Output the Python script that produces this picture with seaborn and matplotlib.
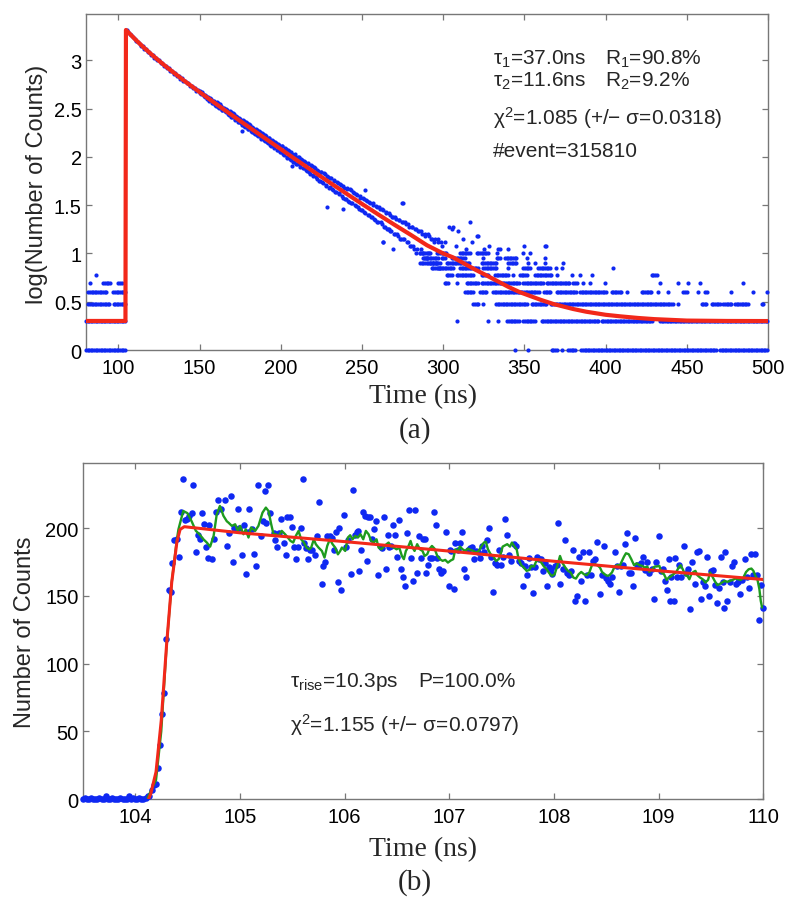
import numpy as np
import pandas as pd
import matplotlib
matplotlib.use("Agg")
import matplotlib.pyplot as plt
from matplotlib.ticker import FuncFormatter
import seaborn as sns

# ---------------- panel (a): decay histogram, counts per bin ----------------
early_t = list(range(105, 150))
early_counts = [2046, 1972, 1865, 1822, 1760, 1648, 1597, 1561, 1475, 1421,
                1402, 1322, 1310, 1231, 1218, 1150, 1140, 1069, 1071, 1003,
                1001, 940, 938, 882, 884, 829, 831, 780, 783, 731,
                737, 690, 694, 649, 655, 611, 617, 577, 584, 545,
                549, 514, 519, 486, 489]

# two sub-bins per ns: at t and t + 0.5
mid_t = list(range(150, 300))
mid_counts_a = [481, 447, 452, 418, 431, 418, 380, 399, 362, 377,
                341, 362, 322, 339, 306, 322, 289, 305, 270, 290,
                258, 279, 243, 262, 229, 247, 214, 236, 205, 222,
                193, 214, 183, 201, 174, 191, 163, 182, 154, 172,
                146, 166, 138, 157, 131, 147, 124, 141, 118, 133,
                112, 129, 104, 121, 99, 114, 94, 108, 88, 103,
                84, 99, 79, 94, 76, 88, 71, 85, 67, 80,
                65, 77, 59, 72, 57, 69, 54, 66, 50, 62,
                49, 60, 45, 57, 43, 54, 41, 51, 38, 48,
                37, 47, 34, 45, 33, 42, 31, 40, 29, 38,
                28, 37, 26, 35, 25, 33, 24, 32, 22, 30,
                21, 29, 20, 28, 19, 26, 18, 25, 17, 24,
                16, 23, 15, 22, 14, 21, 14, 20, 13, 19,
                12, 19, 11, 18, 11, 17, 11, 16, 9, 15,
                9, 15, 8, 14, 8, 14, 8, 13, 7, 12]
mid_counts_b = [455, 468, 430, 441, 398, 391, 408, 366, 382, 345,
                368, 329, 350, 309, 325, 296, 314, 276, 297, 258,
                284, 249, 268, 231, 252, 224, 240, 208, 229, 196,
                218, 186, 205, 176, 194, 168, 186, 157, 175, 148,
                168, 142, 158, 133, 150, 127, 144, 119, 136, 112,
                131, 107, 124, 98, 117, 96, 112, 89, 106, 84,
                101, 82, 96, 76, 90, 73, 87, 69, 82, 64,
                79, 62, 74, 57, 70, 55, 68, 51, 64, 48,
                61, 47, 58, 43, 55, 42, 53, 39, 50, 37,
                48, 35, 46, 33, 43, 32, 41, 30, 39, 28,
                38, 27, 36, 25, 34, 24, 33, 23, 31, 21,
                30, 21, 29, 19, 27, 18, 26, 17, 24, 16,
                24, 16, 22, 14, 21, 14, 21, 13, 20, 12,
                19, 12, 18, 10, 17, 10, 17, 10, 16, 9,
                16, 10, 14, 8, 13, 8, 14, 7, 13, 7]

# scattered points off the main band
extra_t = [175.9, 206.7, 211.8, 228.2, 238.5, 251.8, 262.7, 263.1, 266.8, 269.3,
           274.4, 275.4, 301.0, 303.7, 305.2, 306.2, 308.0, 309.3, 312.0, 314.0,
           316.5, 318.0, 320.6, 321.6, 325.0, 328.0, 333.9, 335.0, 340.0, 349.7,
           362.7, 363.3]
extra_counts = [186, 81, 96, 30, 29, 45, 13, 13, 18, 11,
                33, 33, 13, 19, 18, 19, 12, 17, 14, 11,
                21, 13, 15, 15, 11, 12, 11, 11, 11, 12,
                12, 12]

# low-count rows: time spans (ns) where bins hold 1, 2, ... 10 counts
runs_c1 = [(80, 104.3), (344.2, 344.2), (352.4, 352.4), (366.8, 369.8), (373, 373),
           (377, 381), (385, 468.4), (470.4, 500)]
runs_c2 = [(80, 104.3), (308.3, 308.3), (327.8, 327.8), (333.9, 333.9), (339.5, 347.3),
           (349.3, 356.5), (360.6, 396.5), (397.6, 429.4), (433.5, 500)]
runs_c3 = [(81.4, 94.5), (97, 104), (318.5, 321.6), (324.7, 324.7), (332.5, 352.4),
           (354.4, 363.7), (366.2, 441.7), (444.8, 444.8), (459.1, 462.2), (465.3, 470.4),
           (472.5, 477.6), (479.7, 487.9), (496.1, 497.1)]
runs_c4 = [(81.4, 92.7), (96.8, 101), (102, 104), (313.4, 318.5), (322.6, 326.7),
           (330.8, 359.6), (362, 366.8), (369.8, 382.2), (384.2, 400.6), (403.7, 409.9),
           (412.9, 412.9), (422.2, 428.4), (432.5, 432.5), (438.6, 439.2), (447.9, 449.9),
           (457.1, 457.1), (461.2, 462.2), (477, 477), (490.6, 490.6), (499.2, 499.2)]
runs_c5 = [(82.5, 82.5), (90.7, 95), (99.9, 102), (301, 303.1), (308.3, 308.3),
           (314.4, 321.6), (323.7, 347.3), (349.3, 361.6), (363.7, 378.1), (380.1, 382.2),
           (386.3, 386.3), (390.4, 390.4), (399.6, 399.6), (433.5, 433.5), (444.8, 444.8),
           (451, 451), (458.1, 458.1), (484.8, 484.8)]
runs_c6 = [(86.2, 86.2), (302.1, 305.2), (308.3, 318.5), (323.7, 327.8), (331.9, 340.1),
           (343.2, 343.2), (347.3, 351.4), (356.5, 366.8), (369.8, 369.8), (379.1, 379.1),
           (384.2, 384.2), (391.4, 391.4), (428.4, 431.4)]
runs_c7 = [(292.9, 298), (300, 306.2), (310.3, 321.6), (324.7, 332.9), (340.1, 340.1),
           (349.3, 353.4), (358.6, 365.7), (369.4, 369.4), (373, 373), (404.7, 404.7)]
runs_c8 = [(285.7, 298), (302.1, 316.5), (323.7, 332.9), (340.1, 345.2), (352.4, 352.4),
           (356.5, 356.5), (362.7, 362.7), (374, 374)]
runs_c9 = [(287.7, 297), (299, 301), (305.2, 313.4), (324.7, 324.7), (332.9, 335),
           (338, 345.2), (351.4, 351.4), (362.7, 362.7)]
runs_c10 = [(285.7, 291.8), (296, 302), (310.3, 316.5), (320.6, 327.8), (333.3, 333.3),
            (349.3, 349.3), (353.4, 353.4)]

fit_t_a = [80, 104.3, 104.6, 106, 110, 115, 120, 125, 130, 140,
           150, 160, 170, 180, 190, 200, 210, 220, 230, 240,
           250, 260, 270, 280, 290, 300, 306, 320, 327, 340,
           347, 360, 368, 380, 388, 400, 409, 420, 430, 450,
           475, 500]
fit_log_a = [0.301, 0.301, 3.315, 3.292, 3.223, 3.142, 3.067, 2.995, 2.926, 2.795,
             2.671, 2.550, 2.431, 2.313, 2.196, 2.080, 1.964, 1.850, 1.736, 1.624,
             1.513, 1.404, 1.297, 1.193, 1.085, 1.0, 0.96, 0.83, 0.77, 0.655,
             0.60, 0.52, 0.476, 0.425, 0.397, 0.365, 0.349, 0.332, 0.32, 0.305,
             0.301, 0.30]

# ---------------- panel (b): rising edge ----------------
data_t_b = [
    103.50, 103.52, 103.54, 103.56, 103.58, 103.60, 103.62, 103.64, 103.66, 103.68,
    103.70, 103.72, 103.74, 103.76, 103.78, 103.80, 103.82, 103.84, 103.86, 103.88,
    103.90, 103.92, 103.94, 103.96, 103.98, 104.00, 104.02, 104.04, 104.06, 104.08,
    104.10, 104.12,
    104.137, 104.159, 104.181, 104.200, 104.216, 104.236, 104.255, 104.277, 104.299, 104.325,
    104.341, 104.357, 104.376, 104.398, 104.417, 104.436, 104.455, 104.478, 104.500, 104.519,
    104.541, 104.557, 104.583, 104.602, 104.621, 104.640, 104.659, 104.681, 104.697, 104.710,
    104.730, 104.758, 104.774, 104.796, 104.818,
    104.860, 104.879, 104.898, 104.917, 104.936, 104.949, 104.981, 104.994, 105.019, 105.038,
    105.057, 105.083, 105.089, 105.115, 105.140, 105.159, 105.178, 105.198, 105.217, 105.236,
    105.255, 105.274, 105.293, 105.322, 105.338, 105.357, 105.370, 105.395, 105.420, 105.440,
    105.452, 105.478, 105.497, 105.516, 105.541, 105.554, 105.580, 105.599, 105.612, 105.637,
    105.656, 105.675, 105.694, 105.714, 105.739, 105.758, 105.784, 105.796, 105.815, 105.835,
    105.866, 105.879, 105.898, 105.917, 105.937, 105.949, 105.962,
    105.997, 106.013, 106.038, 106.058, 106.077, 106.096, 106.115, 106.128, 106.140, 106.159,
    106.179, 106.198, 106.217, 106.223, 106.242, 106.261, 106.280, 106.300, 106.319, 106.344,
    106.357, 106.376, 106.395, 106.414, 106.427, 106.440, 106.459, 106.478, 106.497, 106.516,
    106.535, 106.554, 106.573, 106.593, 106.612, 106.631, 106.656, 106.675, 106.694, 106.714,
    106.733, 106.752, 106.765, 106.777, 106.796, 106.816, 106.835, 106.854, 106.873, 106.886,
    106.905, 106.924, 106.943, 106.968, 106.994, 107.007,
    107.019, 107.042, 107.058, 107.083, 107.102, 107.121, 107.140, 107.159, 107.179, 107.198,
    107.217, 107.236, 107.255, 107.274, 107.293, 107.312, 107.331, 107.357, 107.376, 107.395,
    107.414, 107.440, 107.459, 107.478, 107.497, 107.516, 107.535, 107.554, 107.573, 107.593,
    107.618, 107.637, 107.663, 107.682, 107.701, 107.720, 107.739, 107.758, 107.777, 107.796,
    107.816, 107.835, 107.854, 107.873, 107.892, 107.911, 107.930, 107.949, 107.968, 107.981,
    108.007, 108.026, 108.038, 108.058,
    108.083, 108.102, 108.124, 108.147, 108.166, 108.185, 108.204, 108.223, 108.242, 108.261,
    108.281, 108.300, 108.319, 108.338, 108.357, 108.376, 108.395, 108.414, 108.440, 108.459,
    108.478, 108.497, 108.516, 108.535, 108.554, 108.580, 108.599, 108.618, 108.637, 108.656,
    108.675, 108.695, 108.714, 108.733, 108.758, 108.777, 108.796, 108.816, 108.835, 108.854,
    108.873, 108.892, 108.911, 108.937, 108.956, 108.975, 109.000, 109.019, 109.039, 109.064,
    109.083, 109.096, 109.109,
    109.121, 109.144, 109.160, 109.179, 109.198, 109.217, 109.242, 109.261, 109.281, 109.300,
    109.319, 109.344, 109.363, 109.383, 109.402, 109.421, 109.440, 109.459, 109.478, 109.497,
    109.516, 109.535, 109.555, 109.574, 109.593, 109.612, 109.625, 109.637, 109.656, 109.682,
    109.701, 109.720, 109.739, 109.758, 109.777, 109.797, 109.822, 109.841, 109.860, 109.879,
    109.898, 109.918, 109.937, 109.962, 109.981, 110.000]
data_counts_b = [
    0, 1, 0, 0, 1, 0, 0, 0, 1, 0,
    0, 2, 0, 0, 1, 0, 0, 0, 1, 0,
    0, 0, 2, 0, 1, 0, 0, 1, 0, 0,
    1, 2,
    2, 7, 10, 11, 23, 40, 63, 78, 118, 154,
    153, 174, 191, 192, 179, 212, 236, 206, 207, 209,
    211, 232, 182, 195, 192, 211, 203, 186, 178, 202,
    177, 192, 212, 221, 214,
    221, 187, 196, 224, 175, 200, 214, 200, 180, 202,
    166, 197, 214, 199, 181, 172, 232, 194, 205, 227,
    204, 232, 211, 196, 191, 186, 196, 207, 189, 180,
    208, 208, 201, 186, 177, 186, 200, 236, 189, 185,
    177, 184, 184, 180, 194, 219, 159, 172, 175, 194,
    194, 193, 184, 197, 160, 200, 154,
    210, 186, 191, 166, 228, 195, 197, 198, 168, 184,
    212, 209, 176, 208, 208, 192, 199, 205, 165, 186,
    185, 208, 170, 195, 186, 187, 202, 195, 179, 206,
    170, 164, 157, 196, 213, 178, 161, 213, 167, 194,
    178, 192, 192, 167, 173, 178, 178, 212, 202, 178,
    170, 167, 168, 197, 157, 184,
    183, 155, 189, 184, 189, 197, 170, 164, 184, 185,
    186, 177, 183, 182, 178, 187, 182, 191, 200, 179,
    153, 174, 173, 184, 173, 179, 207, 195, 180, 176,
    188, 187, 176, 174, 157, 172, 165, 178, 171, 152,
    171, 179, 177, 177, 168, 174, 157, 171, 170, 166,
    172, 173, 204, 159,
    170, 191, 167, 165, 168, 184, 146, 150, 179, 161,
    182, 146, 165, 182, 165, 176, 177, 190, 151, 165,
    187, 163, 161, 159, 164, 182, 172, 153, 172, 173,
    188, 196, 167, 167, 157, 193, 173, 173, 174, 179,
    169, 175, 167, 170, 148, 175, 194, 168, 170, 161,
    154, 177, 146,
    164, 146, 178, 164, 173, 164, 187, 167, 170, 140,
    175, 159, 182, 183, 148, 160, 157, 179, 150, 168,
    169, 158, 145, 156, 179, 160, 141, 182, 146, 160,
    172, 175, 159, 160, 151, 162, 177, 164, 156, 181,
    165, 181, 165, 132, 158, 141]

green_t_b = [
    104.12, 104.20, 104.25, 104.30, 104.35, 104.40, 104.414, 104.46, 104.50, 104.54,
    104.58, 104.615, 104.653, 104.685, 104.717, 104.75, 104.78, 104.81, 104.844, 104.876,
    104.892, 104.924, 104.956, 104.981, 105.003, 105.035, 105.057, 105.083, 105.108, 105.147,
    105.178, 105.217, 105.249, 105.274, 105.300, 105.322, 105.344, 105.370, 105.401, 105.433,
    105.459, 105.484, 105.510, 105.535, 105.561, 105.586, 105.612, 105.637, 105.663, 105.682,
    105.707, 105.726, 105.752, 105.784, 105.809, 105.835, 105.860, 105.886, 105.911, 105.937,
    105.959, 105.975, 106.007, 106.032, 106.054, 106.077, 106.102, 106.128, 106.153, 106.179,
    106.204, 106.230, 106.255, 106.280, 106.306, 106.325, 106.351, 106.376, 106.401, 106.421,
    106.446, 106.472, 106.497, 106.523, 106.548, 106.567, 106.586, 106.605, 106.631, 106.650,
    106.669, 106.694, 106.720, 106.745, 106.765, 106.790, 106.809, 106.835, 106.860, 106.886,
    106.911, 106.937, 106.962, 106.988, 107.013, 107.038, 107.058, 107.083, 107.102, 107.128,
    107.153, 107.179, 107.204, 107.230, 107.255, 107.281, 107.306, 107.331, 107.350, 107.370,
    107.395, 107.421, 107.446, 107.472, 107.491, 107.510, 107.535, 107.554, 107.580, 107.599,
    107.624, 107.644, 107.663, 107.688, 107.714, 107.739, 107.765, 107.784, 107.809, 107.828,
    107.854, 107.879, 107.905, 107.930, 107.956, 107.981, 108.007, 108.032, 108.058, 108.083,
    108.109, 108.134, 108.160, 108.185, 108.210, 108.236, 108.261, 108.287, 108.312, 108.338,
    108.363, 108.389, 108.414, 108.440, 108.459, 108.484, 108.510, 108.529, 108.554, 108.580,
    108.605, 108.631, 108.650, 108.669, 108.688, 108.714, 108.739, 108.765, 108.790, 108.816,
    108.841, 108.867, 108.892, 108.911, 108.937, 108.962, 108.981, 109.007, 109.026, 109.051,
    109.077, 109.096, 109.115, 109.140, 109.166, 109.191, 109.210, 109.230, 109.255, 109.274,
    109.293, 109.312, 109.332, 109.351, 109.370, 109.395, 109.421, 109.446, 109.472, 109.491,
    109.510, 109.535, 109.561, 109.580, 109.605, 109.631, 109.656, 109.682, 109.707, 109.733,
    109.758, 109.784, 109.809, 109.835, 109.860, 109.886, 109.905, 109.924, 109.943, 109.962,
    109.975, 109.988]
green_counts_b = [
    1, 14, 50, 112, 160, 192, 199, 212.6, 211, 205,
    198, 195.4, 191.7, 189.3, 186.3, 194.2, 210.2, 216.3, 209, 205,
    204.0, 201.6, 202.8, 197.9, 201.6, 195.4, 199.1, 193.0, 200.4, 197.9,
    201.6, 211.4, 215.1, 212.6, 202.8, 195.4, 195.4, 194.2, 197.9, 195.4,
    193.0, 190.5, 189.3, 194.2, 197.9, 191.7, 189.3, 185.6, 184.3, 185.6,
    191.7, 188.1, 185.6, 183.1, 178.2, 186.8, 191.7, 188.1, 185.6, 180.6,
    183.1, 185.6, 183.1, 193.0, 194.7, 191.7, 194.2, 193.0, 195.4, 191.7,
    197.9, 195.4, 190.5, 189.3, 191.7, 185.6, 184.3, 186.3, 188.1, 189.3,
    186.3, 185.6, 184.3, 185.6, 179.4, 177.0, 183.1, 185.6, 190.5, 185.6,
    183.1, 188.1, 184.3, 183.1, 179.4, 180.7, 184.3, 186.8, 184.8, 179.4,
    177.0, 175.8, 176.5, 174.5, 176.0, 177.0, 184.3, 183.1, 186.3, 184.3,
    183.1, 184.8, 183.9, 183.1, 181.9, 183.1, 186.3, 189.3, 189.8, 184.3,
    180.7, 179.4, 175.7, 177.0, 180.7, 186.3, 187.3, 188.1, 186.3, 189.3,
    186.3, 184.3, 177.0, 172.6, 170.8, 168.4, 169.1, 172.1, 171.6, 175.0,
    177.0, 174.5, 171.6, 169.6, 166.6, 164.7, 165.9, 172.1, 179.4, 174.0,
    170.8, 168.4, 167.2, 163.5, 162.7, 165.9, 167.6, 165.9, 165.2, 167.2,
    172.6, 173.3, 172.6, 170.8, 167.6, 165.9, 164.7, 165.2, 167.2, 171.6,
    172.6, 172.6, 175.7, 178.9, 181.4, 180.7, 177.0, 172.6, 174.0, 172.6,
    172.1, 170.8, 171.6, 167.6, 169.6, 171.6, 171.6, 172.1, 167.2, 165.9,
    161.7, 163.5, 164.2, 165.9, 167.2, 170.8, 172.6, 169.6, 165.2, 164.7,
    162.2, 165.9, 167.6, 168.4, 165.2, 163.5, 162.2, 159.8, 161.7, 167.2,
    164.7, 161.0, 157.8, 158.6, 159.8, 161.0, 160.3, 161.0, 161.7, 162.7,
    162.2, 161.7, 163.5, 167.6, 169.6, 170.1, 168.4, 164.7, 162.2, 154.9,
    146.3, 141.3]

fit_t_b = [104.13, 104.15, 104.2, 104.25, 104.3, 104.35, 104.4, 104.43, 104.47,
           105, 106, 107, 108, 109, 110]
fit_counts_b = [0, 4, 20, 58, 113, 160, 190, 199, 201,
                196.5, 190, 183, 175.5, 168.5, 162]

BLUE = "#0f28f2"
RED = "#f2281a"
GREEN = "#1e9b1e"
SPINE = "#777777"


def expand_runs(runs, count, step=1.0):
    ts = []
    for start, end in runs:
        ts.extend(np.arange(start, end + 1e-6, step))
    return ts, [count] * len(ts)


# assemble panel (a) points
pts_t = list(early_t) + list(mid_t) + [t + 0.5 for t in mid_t] + extra_t
pts_c = early_counts + mid_counts_a + mid_counts_b + extra_counts
for c, runs in enumerate([runs_c1, runs_c2, runs_c3, runs_c4, runs_c5,
                          runs_c6, runs_c7, runs_c8, runs_c9, runs_c10], start=1):
    ts, cs = expand_runs(runs, c)
    pts_t += ts
    pts_c += cs
df_a = pd.DataFrame({"t": pts_t, "logc": np.log10(pts_c)})

sns.set_style("ticks")
plt.rcParams["font.family"] = ["Liberation Sans", "DejaVu Sans"]

fig = plt.figure(figsize=(8, 9.12), dpi=100)
ax_a = fig.add_axes([0.1075, 0.6151, 0.8525, 0.3684])
ax_b = fig.add_axes([0.1034, 0.1228, 0.8508, 0.3684])

sns.scatterplot(data=df_a, x="t", y="logc", ax=ax_a, s=9, color=BLUE,
                linewidth=0, legend=False, clip_on=False, zorder=3)
sns.lineplot(x=fit_t_a, y=fit_log_a, ax=ax_a, color=RED, linewidth=3,
             sort=False, estimator=None, zorder=4)
ax_a.set_xlim(80, 500)
ax_a.set_ylim(0, 3.48)
ax_a.set_xticks(range(100, 501, 50))
ax_a.set_yticks(np.arange(0, 3.01, 0.5))

sns.scatterplot(x=data_t_b, y=data_counts_b, ax=ax_b, s=22, color=BLUE,
                linewidth=0, legend=False, clip_on=False, zorder=3)
sns.lineplot(x=green_t_b, y=green_counts_b, ax=ax_b, color=GREEN, linewidth=1.7,
             sort=False, estimator=None, zorder=4)
sns.lineplot(x=fit_t_b, y=fit_counts_b, ax=ax_b, color=RED, linewidth=2.2,
             sort=False, estimator=None, zorder=5)
ax_b.set_xlim(103.5, 110)
ax_b.set_ylim(0, 248)
ax_b.set_xticks(range(104, 111))
ax_b.set_yticks(range(0, 201, 50))

fmt = FuncFormatter(lambda v, p: f"{v:g}")
for ax in (ax_a, ax_b):
    ax.set_xlabel("")
    ax.set_ylabel("")
    ax.yaxis.set_major_formatter(fmt)
    ax.xaxis.set_major_formatter(fmt)
    ax.tick_params(direction="in", top=True, right=True, length=4, width=0.9,
                   color=SPINE, labelsize=14.5, labelcolor="black")
    ax.tick_params(axis="x", pad=6)
    ax.tick_params(axis="y", pad=3)
    for sp in ax.spines.values():
        sp.set_color(SPINE)
        sp.set_linewidth(1.0)

# annotations
ax_a.text(0.597, 0.851, "τ$\\mathregular{_1}$=37.0ns", transform=ax_a.transAxes, fontsize=15)
ax_a.text(0.761, 0.851, "R$\\mathregular{_1}$=90.8%", transform=ax_a.transAxes, fontsize=15)
ax_a.text(0.597, 0.786, "τ$\\mathregular{_2}$=11.6ns", transform=ax_a.transAxes, fontsize=15)
ax_a.text(0.761, 0.786, "R$\\mathregular{_2}$=9.2%", transform=ax_a.transAxes, fontsize=15)
ax_a.text(0.597, 0.673, "χ$\\mathregular{^2}$=1.085 (+/− σ=0.0318)",
          transform=ax_a.transAxes, fontsize=15)
ax_a.text(0.597, 0.577, "#event=315810", transform=ax_a.transAxes, fontsize=15)

ax_b.text(0.305, 0.336, "τ$\\mathregular{_{rise}}$=10.3ps", transform=ax_b.transAxes, fontsize=15)
ax_b.text(0.4927, 0.336, "P=100.0%", transform=ax_b.transAxes, fontsize=15)
ax_b.text(0.305, 0.202, "χ$\\mathregular{^2}$=1.155 (+/− σ=0.0797)",
          transform=ax_b.transAxes, fontsize=15)

# axis labels and panel tags
serif = ["Liberation Serif", "DejaVu Serif"]
fig.text(423 / 800, 1 - 397 / 912, "Time (ns)", family=serif, fontsize=20,
         ha="center", va="center")
fig.text(415 / 800, 1 - 431 / 912, "(a)", family=serif, fontsize=21,
         ha="center", va="center")
fig.text(423 / 800, 1 - 850 / 912, "Time (ns)", family=serif, fontsize=20,
         ha="center", va="center")
fig.text(415 / 800, 1 - 883 / 912, "(b)", family=serif, fontsize=21,
         ha="center", va="center")
fig.text(37 / 800, 1 - 184 / 912, "log(Number of Counts)", fontsize=17,
         rotation=90, ha="center", va="center")
fig.text(25 / 800, 1 - 632 / 912, "Number of Counts", fontsize=17,
         rotation=90, ha="center", va="center")

fig.savefig("out.png", dpi=100)
